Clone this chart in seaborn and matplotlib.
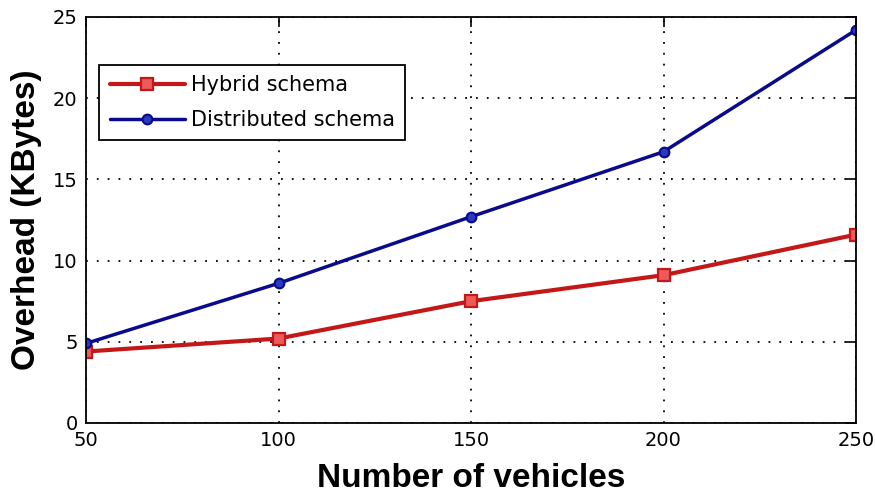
import matplotlib
matplotlib.use('Agg')
import matplotlib.pyplot as plt
import seaborn as sns
import pandas as pd

vehicles = [50, 100, 150, 200, 250]
hybrid = [4.4, 5.2, 7.5, 9.1, 11.6]
distributed = [4.9, 8.6, 12.7, 16.7, 24.2]
series_names = ['Hybrid schema', 'Distributed schema']

sns.set_style('white')
plt.rcParams['font.family'] = ['DejaVu Sans']
plt.rcParams['text.color'] = 'black'
plt.rcParams['axes.labelcolor'] = 'black'

df = pd.DataFrame({
    'vehicles': vehicles * 2,
    'overhead': hybrid + distributed,
    'schema': [series_names[0]] * 5 + [series_names[1]] * 5,
})

fig = plt.figure(figsize=(8.75, 4.95), dpi=100)
ax = fig.add_axes([0.0983, 0.1455, 0.8800, 0.8202])

ax.grid(True, color='black', linestyle=(0, (1, 5)), linewidth=1.3)

sns.lineplot(
    data=df[df.schema == series_names[0]], x='vehicles', y='overhead',
    color='#c41818', linewidth=3, marker='s', markersize=9,
    markerfacecolor='#ee5a5a', markeredgecolor='#c41818', markeredgewidth=1.6,
    label=series_names[0], ax=ax
)
sns.lineplot(
    data=df[df.schema == series_names[1]], x='vehicles', y='overhead',
    color='#0a0a8c', linewidth=2.5, marker='o', markersize=7,
    markerfacecolor='#2a3ac0', markeredgecolor='#0a0a8c', markeredgewidth=1.5,
    label=series_names[1], ax=ax
)

ax.set_xlim(50, 250)
ax.set_ylim(0, 25)
ax.set_xticks(vehicles)
ax.set_yticks([0, 5, 10, 15, 20, 25])
ax.tick_params(direction='in', length=7, width=1.2, top=True, right=True,
               labelsize=14, pad=6, colors='black')
for side in ax.spines.values():
    side.set_visible(True)
    side.set_color('black')
    side.set_linewidth(1.3)

ax.set_xlabel('Number of vehicles', fontsize=24, fontweight='bold',
              family=['Liberation Sans', 'DejaVu Sans'], labelpad=9)
ax.set_ylabel('Overhead (KBytes)', fontsize=24, fontweight='bold',
              family=['Liberation Sans', 'DejaVu Sans'], labelpad=8)

leg = ax.legend(loc='upper left', bbox_to_anchor=(0.017, 0.882), fontsize=15,
                frameon=True, fancybox=False, handlelength=3.6,
                borderaxespad=0, borderpad=0.5, labelspacing=0.7,
                handletextpad=0.3)
leg.get_frame().set_edgecolor('black')
leg.get_frame().set_linewidth(1.3)
leg.get_frame().set_alpha(1)

fig.savefig('out.png', dpi=100)
